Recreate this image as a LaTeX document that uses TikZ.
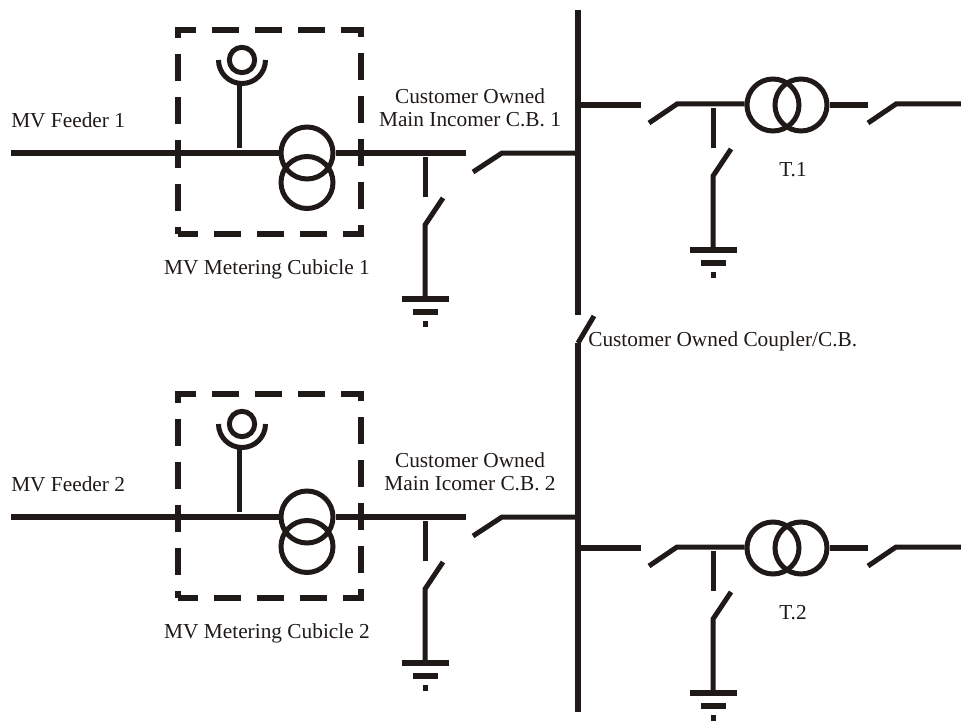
\documentclass[tikz,border=0pt]{standalone}
\usepackage{fontspec}
\setmainfont{Liberation Serif}
\definecolor{inkblack}{HTML}{1F1A17}
\tikzset{
  heavy/.style={line width=4.5pt},
  light/.style={line width=3.75pt},
  winding/.style={circle, draw=inkblack, light, minimum size=39pt, inner sep=0pt},
  vtcoil/.style={circle, draw=inkblack, light, minimum size=19pt, inner sep=0pt},
  meterbox/.style={heavy, dash pattern=on 20.25pt off 12pt},
  caption/.style={inner sep=0pt, text=inkblack, font=\fontsize{16}{18}\selectfont},
}
\begin{document}
\begin{tikzpicture}[x=0.75pt, y=-0.75pt, draw=inkblack]
\useasboundingbox (0,0) rectangle (961,724);

\pgfmathsetmacro\xBus{578};
\pgfmathsetmacro\xBlade{28};
\pgfmathsetmacro\yBlade{19};

% bus bar and coupler
\coordinate (busTop) at (\xBus, 10);
\coordinate (busEnd) at (\xBus, 315);
\coordinate (cplPivot) at (\xBus, 343);
\coordinate (cplTip) at (594, 316);
\coordinate (busBot) at (\xBus, 712);
\draw [heavy] (busTop) to (busEnd);
\draw [light] (cplTip) to (cplPivot);
\draw [heavy] (cplPivot) to (busBot);
\node [caption, anchor=west] (cplLabel) at (588, 341) {Customer Owned Coupler/C.B.};

% feeders, metering cubicles, incomers
\foreach \n/\dy/\inc in {1/0/Main Incomer C.B. 1, 2/364/Main Icomer C.B. 2} {
  \coordinate (fdrStart\n) at (11, 153+\dy);
  \coordinate (fdrEnd\n) at (466, 153+\dy);
  \node [winding] (tvUp\n) at (307, 153+\dy) {};
  \node [winding] (tvLow\n) at (307, 182.5+\dy) {};
  \draw [heavy] (fdrStart\n) to (tvUp\n.west);
  \draw [heavy] (tvUp\n.east) to (fdrEnd\n);

  % cubicle outline
  \draw [meterbox]
    (212, 30+\dy) -| (361, 234+\dy) to (177.5, 234+\dy)
    (196, 30+\dy) -| (177.5, 234+\dy);

  % voltage pick-off
  \node [vtcoil] (vt\n) at (242, 60+\dy) {};
  \draw [light] (218.5, 60+\dy) arc [start angle=180, end angle=0, radius=23.5];
  \coordinate (vtFoot\n) at (239, 148+\dy);
  \coordinate (vtHead\n) at (239, 84+\dy);
  \draw [light] (vtHead\n) to (vtFoot\n);

  % incoming breaker
  \coordinate (cbPivot\n) at (502, 153+\dy);
  \coordinate (cbTip\n) at (473, 172+\dy);
  \coordinate (cbBus\n) at (\xBus, 153+\dy);
  \draw [light] (cbTip\n) to (cbPivot\n) to (cbBus\n);

  \node [caption, anchor=west] (fdrLabel\n) at (11, 120+\dy) {MV Feeder \n};
  \node [caption] (cusLabel\n) at (470, 96+\dy) {Customer Owned};
  \node [caption] (incLabel\n) at (470, 120+\dy) {\inc};
  \node [caption] (boxLabel\n) at (267, 269+\dy) {MV Metering Cubicle \n};
}

% outgoing transformers
\foreach \n/\dy in {1/0, 2/443} {
  \coordinate (outBus\n) at (\xBus, 105+\dy);
  \coordinate (outStub\n) at (641, 105+\dy);
  \draw [heavy] (outBus\n) to (outStub\n);

  \node [winding] (trA\n) at (773, 105+\dy) {};
  \node [winding] (trB\n) at (801, 105+\dy) {};

  \coordinate (swTip\n) at (677-\xBlade, 104+\yBlade+\dy);
  \coordinate (swPivot\n) at (677, 104+\dy);
  \draw [light] (swTip\n) to (swPivot\n) to (trA\n.west |- swPivot\n);

  \coordinate (secStub\n) at (868, 105+\dy);
  \draw [heavy] (trB\n.east) to (secStub\n);

  \coordinate (lvTip\n) at (896-\xBlade, 104+\yBlade+\dy);
  \coordinate (lvPivot\n) at (896, 104+\dy);
  \coordinate (lvEnd\n) at (961, 104+\dy);
  \draw [light] (lvTip\n) to (lvPivot\n) to (lvEnd\n);

  \node [caption] (trLabel\n) at (793, 170+\dy) {T.\n};
}

% earthing switches
\foreach \e/\xE/\yE in {a/425/153, b/425/517, c/713/104, d/713/547} {
  \coordinate (esTop\e) at (\xE, \yE+4);
  \coordinate (esGap\e) at (\xE, \yE+44);
  \coordinate (esTip\e) at (\xE+18, \yE+45);
  \coordinate (esPivot\e) at (\xE, \yE+72);
  \coordinate (esFoot\e) at (\xE, \yE+146);
  \draw [light] (esTop\e) to (esGap\e);
  \draw [light] (esTip\e) to (esPivot\e) to (esFoot\e);

  % earth symbol
  \draw [heavy] (\xE-23.5, \yE+146) to (\xE+23.5, \yE+146);
  \draw [heavy] (\xE-12, \yE+159) to (\xE+13, \yE+159);
  \draw [heavy] (\xE-2.5, \yE+171) to (\xE+3, \yE+171);
}

\end{tikzpicture}
\end{document}
